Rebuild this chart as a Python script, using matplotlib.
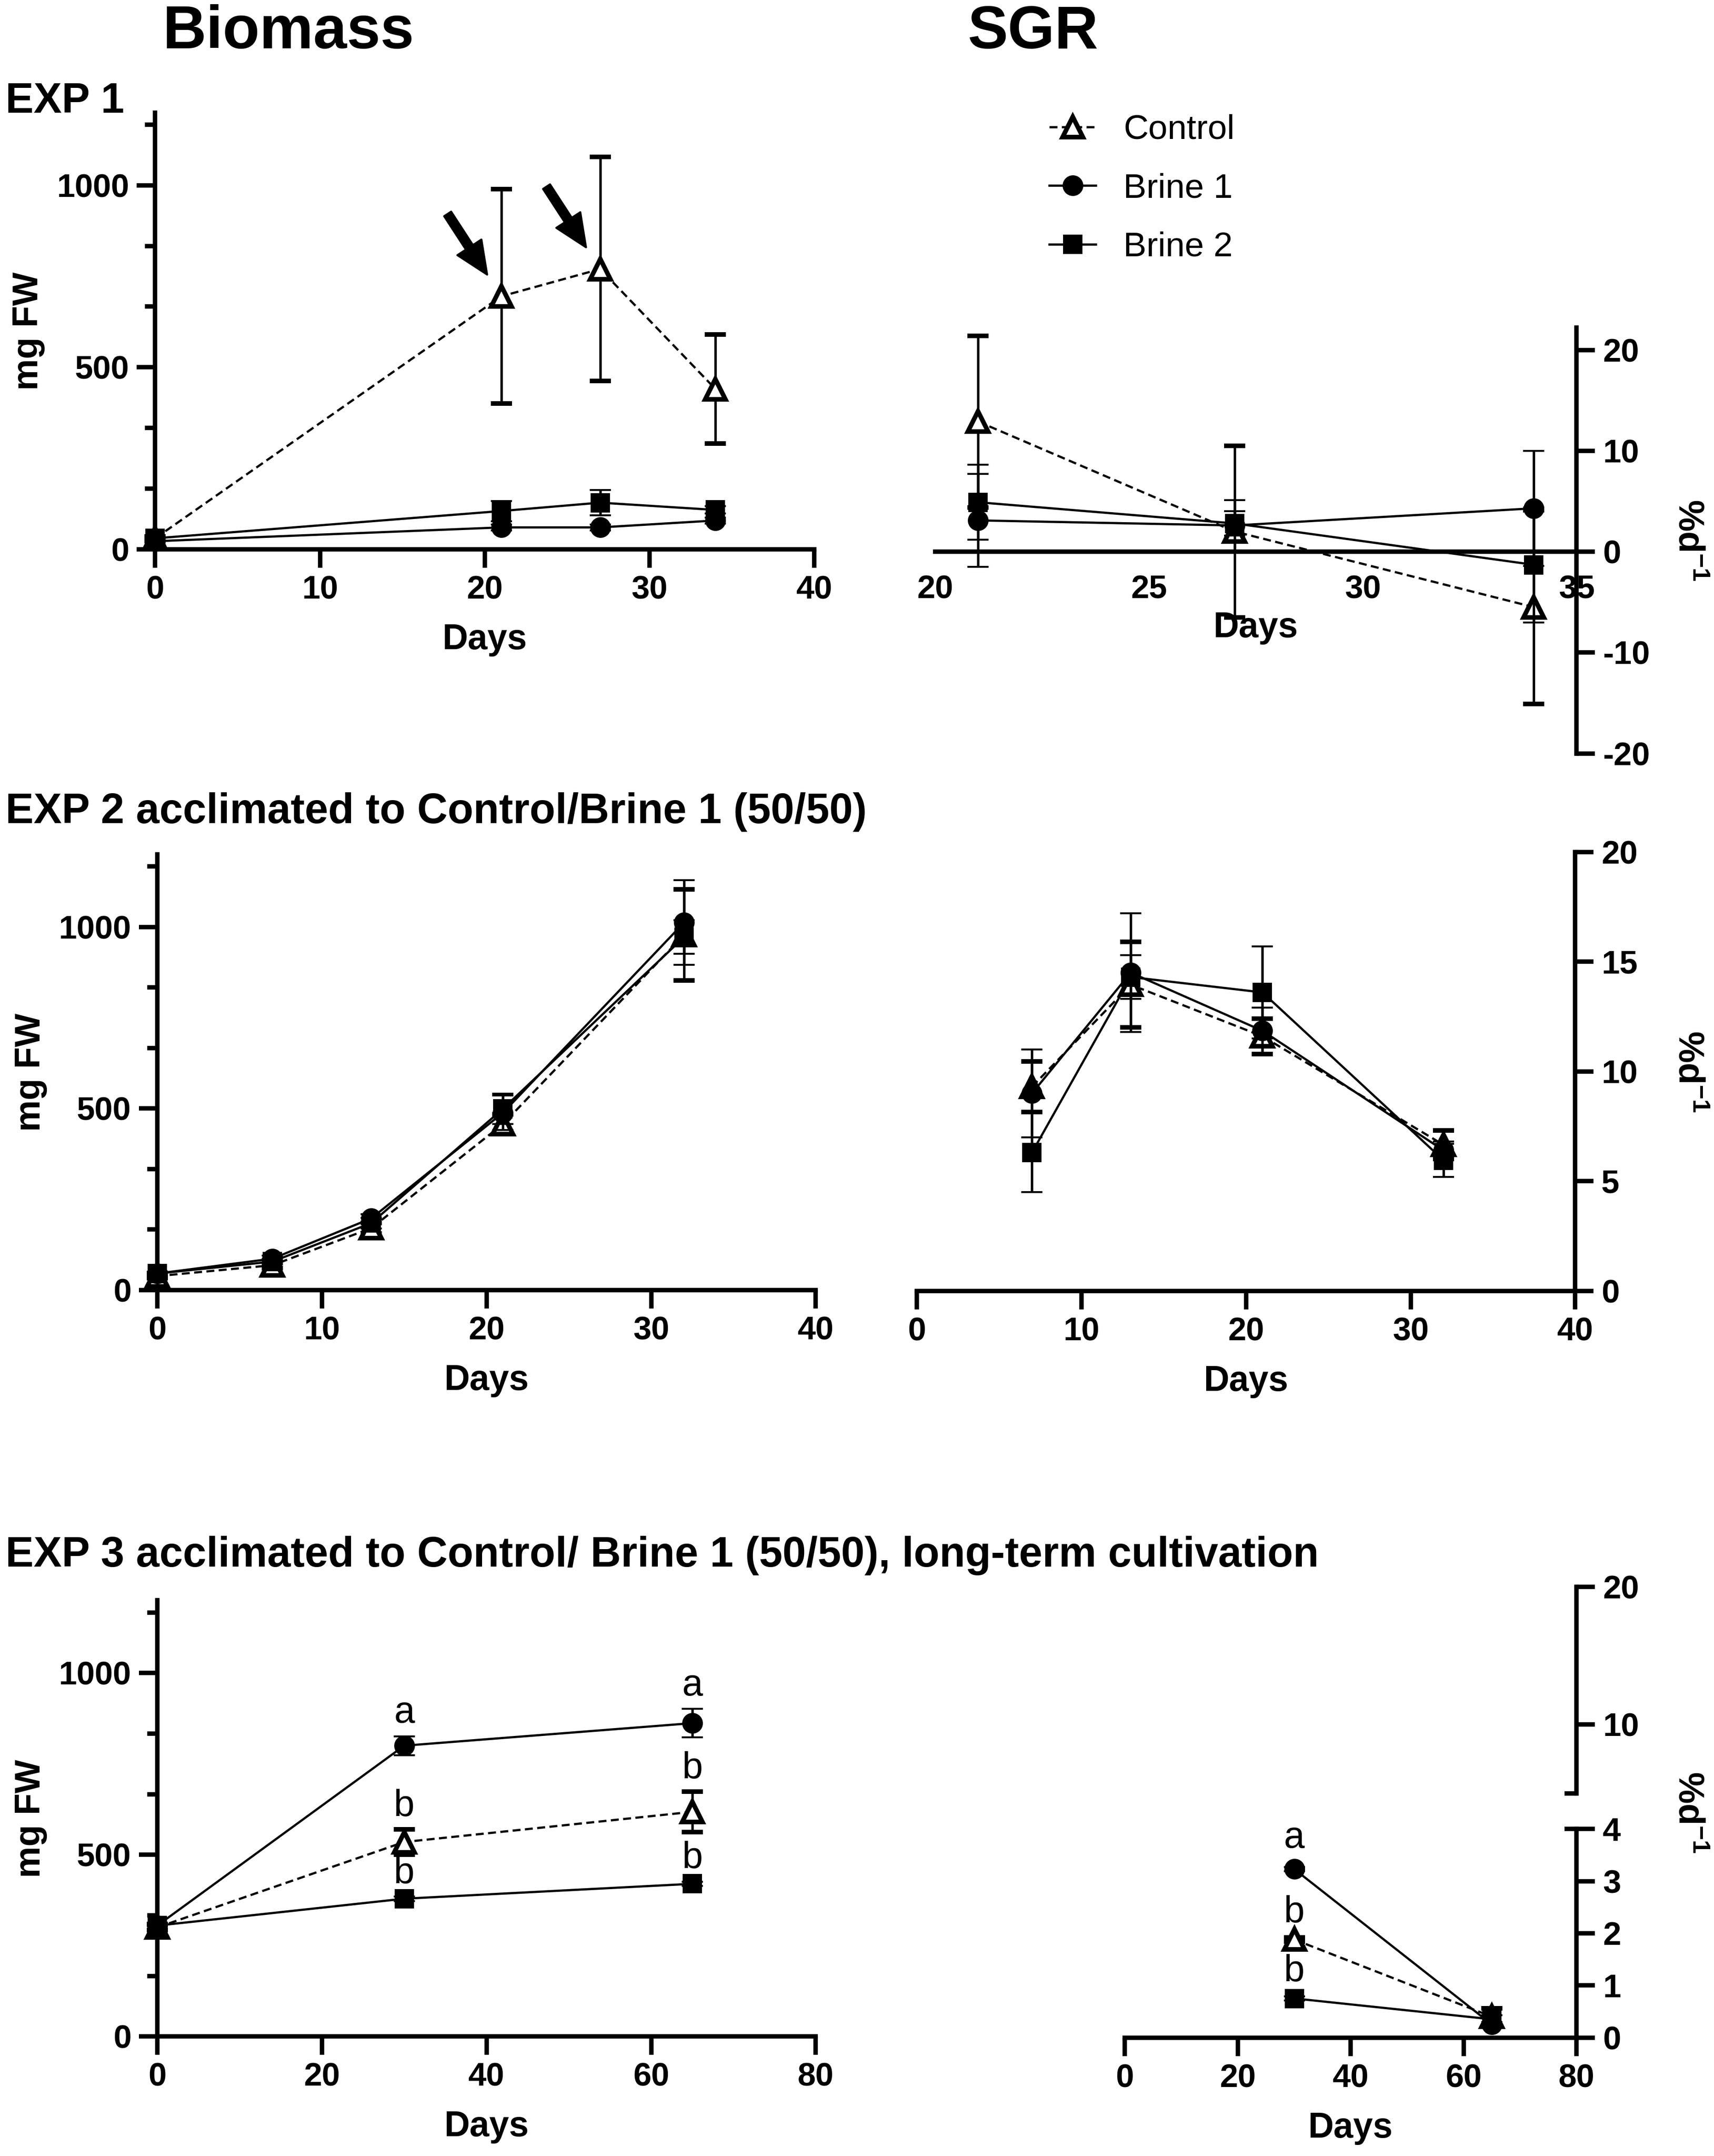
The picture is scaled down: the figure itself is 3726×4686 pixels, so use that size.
import matplotlib
matplotlib.use('Agg')
import matplotlib.pyplot as plt
from matplotlib.lines import Line2D
from matplotlib.ticker import MultipleLocator

plt.rcParams['font.family'] = ['Liberation Sans', 'DejaVu Sans']
plt.rcParams['font.weight'] = 'bold'
plt.rcParams['axes.labelweight'] = 'bold'
plt.rcParams['axes.unicode_minus'] = False
plt.rcParams['mathtext.fontset'] = 'custom'
plt.rcParams['mathtext.rm'] = 'Liberation Sans:bold'
plt.rcParams['mathtext.bf'] = 'Liberation Sans:bold'

# ---- data ----
# EXP 1 biomass (mg FW)
exp1_days = [0, 21, 27, 34]
exp1_ctrl = [30, 695, 770, 440]
exp1_ctrl_sd = [5, 295, 308, 150]
exp1_b1 = [22, 60, 60, 79]
exp1_b1_sd = [3, 8, 8, 8]
exp1_b2 = [30, 105, 128, 108]
exp1_b2_sd = [5, 28, 35, 10]

# EXP 1 SGR (% d-1)
exp1_sgr_days = [21, 27, 34]
exp1_sgr_ctrl = [12.9, 2.0, -5.5]
exp1_sgr_ctrl_sd = [8.5, 8.5, 9.6]
exp1_sgr_b1 = [3.1, 2.6, 4.3]
exp1_sgr_b1_sd = [4.6, 2.5, 5.7]
exp1_sgr_b2 = [4.9, 2.8, -1.3]
exp1_sgr_b2_sd = [3.7, 1.2, 5.7]

# EXP 2 biomass
exp2_days = [0, 7, 13, 21, 32]
exp2_ctrl = [38, 68, 170, 457, 978]
exp2_ctrl_sd = [5, 8, 15, 27, 125]
exp2_b1 = [45, 86, 197, 488, 1012]
exp2_b1_sd = [5, 8, 12, 47, 117]
exp2_b2 = [45, 78, 184, 499, 972]
exp2_b2_sd = [5, 8, 15, 42, 46]

# EXP 2 SGR
exp2_sgr_days = [7, 13, 21, 32]
exp2_sgr_ctrl = [9.3, 13.95, 11.6, 6.65]
exp2_sgr_ctrl_sd = [1.15, 1.95, 0.8, 0.65]
exp2_sgr_b1 = [9.0, 14.5, 11.85, 6.4]
exp2_sgr_b1_sd = [2.0, 2.7, 1.05, 0.4]
exp2_sgr_b2 = [6.3, 14.3, 13.6, 5.95]
exp2_sgr_b2_sd = [1.8, 1.0, 2.1, 0.75]

# EXP 3 biomass
exp3_days = [0, 30, 65]
exp3_ctrl = [300, 535, 618]
exp3_ctrl_sd = [8, 35, 56]
exp3_b1 = [305, 800, 862]
exp3_b1_sd = [8, 26, 39]
exp3_b2 = [305, 379, 420]
exp3_b2_sd = [8, 6, 6]
exp3_ctrl_let = ['', 'b', 'b']
exp3_b1_let = ['', 'a', 'a']
exp3_b2_let = ['', 'b', 'b']

# EXP 3 SGR
exp3_sgr_days = [30, 65]
exp3_sgr_ctrl = [1.88, 0.40]
exp3_sgr_ctrl_sd = [0.04, 0.16]
exp3_sgr_b1 = [3.23, 0.25]
exp3_sgr_b1_sd = [0.04, 0.05]
exp3_sgr_b2 = [0.75, 0.35]
exp3_sgr_b2_sd = [0.04, 0.08]
exp3_sgr_ctrl_let = ['b', '']
exp3_sgr_b1_let = ['a', '']
exp3_sgr_b2_let = ['b', '']

# ---- layout helpers (positions in 1248 x 1569 preview pixels) ----
W, H = 1248.0, 1569.0


def rect(x0, y0, x1, y1):
    return [x0 / W, 1 - y1 / H, (x1 - x0) / W, (y1 - y0) / H]


DASH = (0, (3.6, 2.0))
STY = {
    'ctrl': dict(marker='^', ms=10.5, mfc='white', mew=2.4, ls=DASH, z=3),
    'b1': dict(marker='o', ms=9.8, mfc='black', mew=1, ls='-', z=4),
    'b2': dict(marker='s', ms=9.2, mfc='black', mew=1, ls='-', z=5),
}


def series(ax, x, y, sd, key):
    s = STY[key]
    c = ax.errorbar(x, y, yerr=sd, color='k', lw=1.15, ls=s['ls'], marker=s['marker'],
                    ms=s['ms'], mfc=s['mfc'], mec='k', mew=s['mew'], capsize=5.5,
                    capthick=1.4, elinewidth=1.3, zorder=s['z'])
    for art in c.get_children():
        art.set_clip_on(False)


def letters(ax, x, y, sd, labs, off):
    for xi, yi, si, t in zip(x, y, sd, labs):
        if t:
            ax.annotate(t, xy=(xi, yi + si), xytext=(0, off), textcoords='offset points',
                        ha='center', va='baseline', fontsize=19.5, fontweight='normal')


def style(ax, side='left'):
    for sp in ax.spines.values():
        sp.set_linewidth(2.3)
    ax.spines['top'].set_visible(False)
    if side == 'left':
        ax.spines['right'].set_visible(False)
    else:
        ax.spines['left'].set_visible(False)
        ax.yaxis.tick_right()
    ax.tick_params(width=2.3, length=9.6, labelsize=17, pad=4)
    ax.tick_params(which='minor', width=2.3, length=5.4)
    ax.patch.set_alpha(0)


def biomass_axes(ax, xmax, xstep):
    style(ax)
    ax.set_xlim(0, xmax)
    ax.set_ylim(0, 1200)
    ax.xaxis.set_major_locator(MultipleLocator(xstep))
    ax.yaxis.set_major_locator(MultipleLocator(500))
    ax.yaxis.set_minor_locator(MultipleLocator(500 / 3))
    ax.set_xlabel('Days', fontsize=18.5, labelpad=9)
    ax.set_ylabel('mg FW', fontsize=18.5, labelpad=6)


fig = plt.figure(figsize=(12.42, 15.62), dpi=300)

# titles
fig.text(210 / W, 1 - 35 / H, 'Biomass', ha='center', va='baseline', fontsize=31.5)
fig.text(752 / W, 1 - 35 / H, 'SGR', ha='center', va='baseline', fontsize=31.5)
fig.text(4 / W, 1 - 82 / H, 'EXP 1', ha='left', va='baseline', fontsize=22)
fig.text(4 / W, 1 - 599 / H, 'EXP 2 acclimated to Control/Brine 1 (50/50)',
         ha='left', va='baseline', fontsize=22)
fig.text(4 / W, 1 - 1140 / H,
         'EXP 3 acclimated to Control/ Brine 1 (50/50), long-term cultivation',
         ha='left', va='baseline', fontsize=22)

sgr_label = r'%d$^{\mathrm{-1}}$'

# ---- EXP 1 biomass ----
ax = fig.add_axes(rect(113, 81.9, 593, 399.7))
biomass_axes(ax, 40, 10)
series(ax, exp1_days, exp1_ctrl, exp1_ctrl_sd, 'ctrl')
series(ax, exp1_days, exp1_b1, exp1_b1_sd, 'b1')
series(ax, exp1_days, exp1_b2, exp1_b2_sd, 'b2')
for i in (1, 2):
    ax.annotate('', xy=(exp1_days[i], exp1_ctrl[i]), xytext=(-28, 43),
                textcoords='offset points',
                arrowprops=dict(arrowstyle='simple,head_length=0.85,head_width=0.75,tail_width=0.22',
                                fc='k', ec='k', shrinkA=0, shrinkB=13.5, mutation_scale=20))

# ---- EXP 1 SGR ----
ax = fig.add_axes(rect(681, 238.5, 1148, 548.3))
style(ax, 'right')
ax.set_xlim(20, 35)
ax.set_ylim(-20, 22.2)
ax.spines['bottom'].set_position(('data', 0))
ax.xaxis.set_major_locator(MultipleLocator(5))
ax.yaxis.set_major_locator(MultipleLocator(10))
ax.tick_params(axis='x', length=0, pad=12)
ax.set_xlabel('Days', fontsize=18.5, labelpad=3)
series(ax, exp1_sgr_days, exp1_sgr_ctrl, exp1_sgr_ctrl_sd, 'ctrl')
series(ax, exp1_sgr_days, exp1_sgr_b1, exp1_sgr_b1_sd, 'b1')
series(ax, exp1_sgr_days, exp1_sgr_b2, exp1_sgr_b2_sd, 'b2')
fig.text(1229 / W, 1 - 393 / H, sgr_label, rotation=270, ha='center', va='center',
         fontsize=18.5)

# legend
handles = [
    Line2D([], [], color='k', lw=1.15, ls=DASH, marker='^', ms=10.5, mfc='white', mec='k', mew=2.4),
    Line2D([], [], color='k', lw=1.15, marker='o', ms=9.8, mfc='k', mec='k'),
    Line2D([], [], color='k', lw=1.15, marker='s', ms=9.2, mfc='k', mec='k'),
]
fig.legend(handles, ['Control', 'Brine 1', 'Brine 2'], loc='upper left',
           bbox_to_anchor=(764 / W, 1 - 83 / H), frameon=False,
           prop=dict(size=18, weight='normal'), handlelength=1.35, handletextpad=0.8,
           labelspacing=0.78, borderpad=0, borderaxespad=0)

# ---- EXP 2 biomass ----
ax = fig.add_axes(rect(114.5, 621.7, 594, 938.7))
biomass_axes(ax, 40, 10)
series(ax, exp2_days, exp2_ctrl, exp2_ctrl_sd, 'ctrl')
series(ax, exp2_days, exp2_b1, exp2_b1_sd, 'b1')
series(ax, exp2_days, exp2_b2, exp2_b2_sd, 'b2')

# ---- EXP 2 SGR ----
ax = fig.add_axes(rect(667.5, 620, 1147, 939.4))
style(ax, 'right')
ax.set_xlim(0, 40)
ax.set_ylim(0, 20)
ax.xaxis.set_major_locator(MultipleLocator(10))
ax.yaxis.set_major_locator(MultipleLocator(5))
ax.set_xlabel('Days', fontsize=18.5, labelpad=9)
series(ax, exp2_sgr_days, exp2_sgr_ctrl, exp2_sgr_ctrl_sd, 'ctrl')
series(ax, exp2_sgr_days, exp2_sgr_b1, exp2_sgr_b1_sd, 'b1')
series(ax, exp2_sgr_days, exp2_sgr_b2, exp2_sgr_b2_sd, 'b2')
fig.text(1229 / W, 1 - 780 / H, sgr_label, rotation=270, ha='center', va='center',
         fontsize=18.5)

# ---- EXP 3 biomass ----
ax = fig.add_axes(rect(114.5, 1164.6, 594, 1482))
biomass_axes(ax, 80, 20)
series(ax, exp3_days, exp3_ctrl, exp3_ctrl_sd, 'ctrl')
series(ax, exp3_days, exp3_b1, exp3_b1_sd, 'b1')
series(ax, exp3_days, exp3_b2, exp3_b2_sd, 'b2')
letters(ax, exp3_days, exp3_ctrl, exp3_ctrl_sd, exp3_ctrl_let, 7)
letters(ax, exp3_days, exp3_b1, exp3_b1_sd, exp3_b1_let, 7)
letters(ax, exp3_days, exp3_b2, exp3_b2_sd, exp3_b2_let, 7)

# ---- EXP 3 SGR (broken y axis) ----
lo = fig.add_axes(rect(819, 1331, 1148, 1482.8))
style(lo, 'right')
lo.set_xlim(0, 80)
lo.set_ylim(0, 4)
lo.xaxis.set_major_locator(MultipleLocator(20))
lo.yaxis.set_major_locator(MultipleLocator(1))
lo.set_xlabel('Days', fontsize=18.5, labelpad=9)
series(lo, exp3_sgr_days, exp3_sgr_ctrl, exp3_sgr_ctrl_sd, 'ctrl')
series(lo, exp3_sgr_days, exp3_sgr_b1, exp3_sgr_b1_sd, 'b1')
series(lo, exp3_sgr_days, exp3_sgr_b2, exp3_sgr_b2_sd, 'b2')
letters(lo, exp3_sgr_days, exp3_sgr_ctrl, exp3_sgr_ctrl_sd, exp3_sgr_ctrl_let, 8)
letters(lo, exp3_sgr_days, exp3_sgr_b1, exp3_sgr_b1_sd, exp3_sgr_b1_let, 10)
letters(lo, exp3_sgr_days, exp3_sgr_b2, exp3_sgr_b2_sd, exp3_sgr_b2_let, 8)

hi = fig.add_axes(rect(819, 1154.7, 1148, 1305))
style(hi, 'right')
hi.spines['bottom'].set_visible(False)
hi.set_xlim(0, 80)
hi.set_ylim(5, 20)
hi.set_xticks([])
hi.yaxis.set_major_locator(MultipleLocator(10))

# break marks pointing inward
d = 9 / 329
lo.plot([1 - d, 1], [1, 1], transform=lo.transAxes, color='k', lw=2.3, clip_on=False,
        solid_capstyle='butt')
hi.plot([1 - d, 1], [0, 0], transform=hi.transAxes, color='k', lw=2.3, clip_on=False,
        solid_capstyle='butt')
fig.text(1229 / W, 1 - 1319 / H, sgr_label, rotation=270, ha='center', va='center',
         fontsize=18.5)

fig.savefig('out.png', dpi=300)
